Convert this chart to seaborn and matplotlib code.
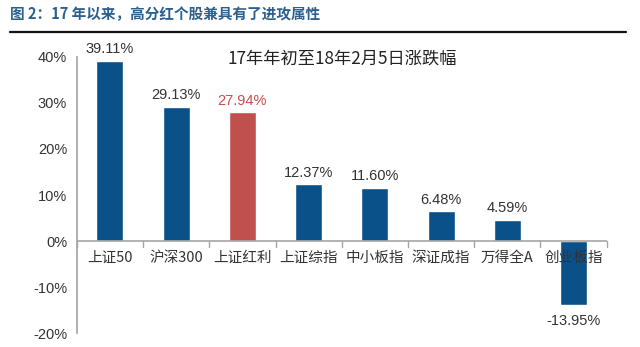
import matplotlib
matplotlib.use("Agg")
import matplotlib.pyplot as plt
import seaborn as sns
import pandas as pd
from matplotlib.lines import Line2D

categories = ["上证50", "沪深300", "上证红利", "上证综指", "中小板指", "深证成指", "万得全A", "创业板指"]
values = [39.11, 29.13, 27.94, 12.37, 11.60, 6.48, 4.59, -13.95]
highlight = "上证红利"
yticks = [-20, -10, 0, 10, 20, 30, 40]

sns.set_theme(style="white")
plt.rcParams['font.family'] = ['Noto Sans CJK SC', 'DejaVu Sans']

blue = "#0B5189"
red = "#C0504D"
df = pd.DataFrame({"cat": categories, "val": values})
palette = {c: (red if c == highlight else blue) for c in categories}

fig = plt.figure(figsize=(6.4, 3.47), dpi=100)
ax = fig.add_axes([0.120, 0.040, 0.828, 0.796])
sns.barplot(data=df, x="cat", y="val", hue="cat", palette=palette, width=0.41,
            legend=False, ax=ax, saturation=1)

ax.set_ylim(-20, 40)
ax.set_xlim(-0.5, len(categories) - 0.5)
ax.set_yticks(yticks)
ax.set_yticklabels([f"{t}%" for t in yticks], fontsize=10.5, color="#333333",
                   family=['Liberation Sans', 'DejaVu Sans'])
ax.set_xlabel("")
ax.set_ylabel("")
ax.set_xticks([])

for s in ["top", "right", "bottom"]:
    ax.spines[s].set_visible(False)
ax.spines["left"].set_color("#A6A6A6")
ax.tick_params(axis="y", length=4, color="#A6A6A6", direction="out", pad=3)
ax.axhline(0, color="#A6A6A6", lw=1.2, zorder=3)

# category boundary ticks on the zero line
for i in range(len(categories) + 1):
    ax.plot([i - 0.5, i - 0.5], [0, -1.2], color="#A6A6A6", lw=1, clip_on=False, zorder=3)

for i, (c, v) in enumerate(zip(categories, values)):
    ax.text(i, -2.2, c, ha="center", va="top", fontsize=10.5, color="#333333")
    col = "#D04A4A" if c == highlight else "#333333"
    if v >= 0:
        ax.text(i, v + 1.0, f"{v:.2f}%", ha="center", va="bottom", fontsize=10.5, color=col,
                family=['Liberation Sans', 'DejaVu Sans'])
    else:
        ax.text(i, v - 2.0, f"{v:.2f}%", ha="center", va="top", fontsize=10.5, color=col,
                family=['Liberation Sans', 'DejaVu Sans'])

ax.text(0.5, 0.995, "17年年初至18年2月5日涨跌幅", transform=ax.transAxes, ha="center", va="center",
        fontsize=12.4, color="#222222")

fig.text(10 / 640, 1 - 14 / 347, "图 2：17 年以来，高分红个股兼具有了进攻属性", ha="left", va="center",
         fontsize=10.5, fontweight="bold", color="#2B5F8E")
fig.add_artist(Line2D([10 / 640, 626 / 640], [1 - 32 / 347, 1 - 32 / 347], color="#111111", lw=1.6,
                      transform=fig.transFigure))

fig.savefig("out.png", dpi=100)
